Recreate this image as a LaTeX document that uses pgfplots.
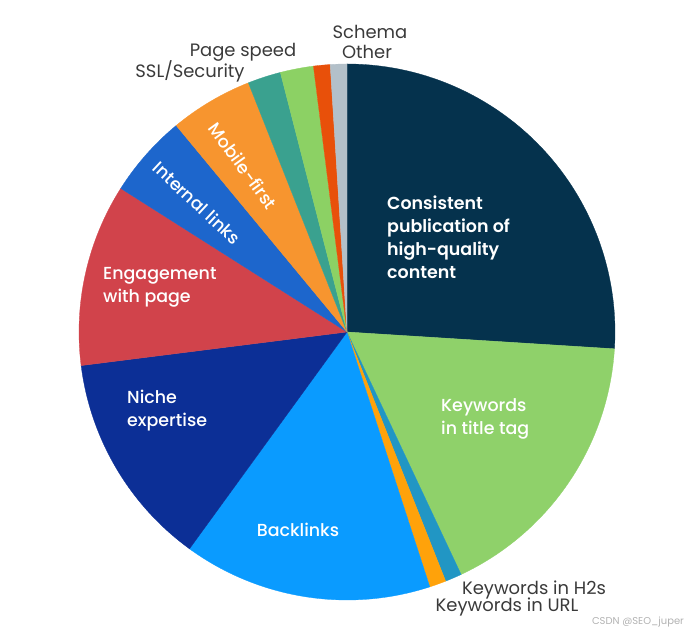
\documentclass[border=0pt]{standalone}
\usepackage{pgfplots}
\usepackage{pgfplotstable}
\pgfplotsset{compat=1.18}
\usepackage{fontspec}
\setmainfont{Poppins}
\newfontfamily\medfont{Poppins Medium}
\newfontfamily\semifont{Poppins SemiBold}

\definecolor{cNavy}{HTML}{05324D}
\definecolor{cLgreen}{HTML}{8FD16A}
\definecolor{cTeal}{HTML}{2196C4}
\definecolor{cUrl}{HTML}{FFA20A}
\definecolor{cBack}{HTML}{0A9BFF}
\definecolor{cNiche}{HTML}{0C2F96}
\definecolor{cEng}{HTML}{D1434B}
\definecolor{cInt}{HTML}{1D66CC}
\definecolor{cMob}{HTML}{F7952F}
\definecolor{cSSL}{HTML}{3AA18F}
\definecolor{cSpeed}{HTML}{8CD164}
\definecolor{cSchema}{HTML}{E8500A}
\definecolor{cOther}{HTML}{B3C0C9}
\definecolor{cLabel}{HTML}{3A3A3A}

\pgfplotstableread{
label value color
Consistent 26 cNavy
TitleTag 17 cLgreen
H2s 1 cTeal
URL 1 cUrl
Backlinks 15 cBack
Niche 13 cNiche
Engagement 11 cEng
Internal 5 cInt
Mobile 5 cMob
SSL 2 cSSL
Speed 2 cSpeed
Schema 1 cSchema
Other 1 cOther
}\piedata

\begin{document}
\begin{tikzpicture}
\begin{axis}[
  width=699bp, height=636bp, scale only axis,
  xmin=0, xmax=699, ymin=0, ymax=636,
  axis lines=none, clip=false,
]
\path (axis cs:0,0) rectangle (axis cs:699,636);
\pgfplotstablegetrowsof{\piedata}
\pgfmathtruncatemacro\N{\pgfplotsretval-1}
\def\acc{0}
\pgfplotsforeachungrouped \i in {0,...,\N}{%
  \pgfplotstablegetelem{\i}{value}\of\piedata \let\v\pgfplotsretval
  \pgfplotstablegetelem{\i}{color}\of\piedata \let\c\pgfplotsretval
  \pgfmathsetmacro\sa{90-3.6*\acc}%
  \pgfmathsetmacro\ea{90-3.6*(\acc+\v)}%
  \edef\cmd{\noexpand\filldraw[fill=\c, draw=\c, line width=0.3pt] (axis cs:347,304) -- ++(\sa:268bp) arc[start angle=\sa, end angle=\ea, radius=268bp] -- cycle;}%
  \cmd
  \pgfmathsetmacro\acc{\acc+\v}%
}

% inside labels
\node[white, font=\fontsize{17.5}{23}\semifont, align=left, anchor=north west, inner sep=0pt] at (axis cs:387,440) {Consistent\\publication of\\high-quality\\content};
\node[white, font=\fontsize{17.5}{23}\medfont, align=left, anchor=north west, inner sep=0pt] at (axis cs:441,238) {Keywords\\in title tag};
\node[white, font=\fontsize{17.5}{23}\medfont] at (axis cs:298,106) {Backlinks};
\node[white, font=\fontsize{17.5}{23}\medfont, align=left, anchor=north west, inner sep=0pt] at (axis cs:127,246) {Niche\\expertise};
\node[white, font=\fontsize{17.5}{23}\medfont, align=left, anchor=north west, inner sep=0pt] at (axis cs:103,369) {Engagement\\with page};
\node[white, font=\fontsize{17.5}{23}\medfont, rotate=-43] at (axis cs:197,433) {Internal links};
\node[white, font=\fontsize{17.5}{23}\medfont, rotate=-54] at (axis cs:243,470) {Mobile-first};

% outside labels
\node[cLabel, font=\fontsize{18}{20}\selectfont] at (axis cs:370,604) {Schema};
\node[cLabel, font=\fontsize{18}{20}\selectfont] at (axis cs:367,584) {Other};
\node[cLabel, font=\fontsize{18}{20}\selectfont] at (axis cs:243,584) {Page speed};
\node[cLabel, font=\fontsize{18}{20}\selectfont] at (axis cs:190,565) {SSL/Security};
\node[cLabel, font=\fontsize{18}{20}\selectfont] at (axis cs:534,46) {Keywords in H2s};
\node[cLabel, font=\fontsize{18}{20}\selectfont] at (axis cs:507,29) {Keywords in URL};
\node[gray!60, font=\fontsize{10}{12}\selectfont] at (axis cs:638,14) {CSDN @SEO\_juper};
\end{axis}
\end{tikzpicture}
\end{document}
